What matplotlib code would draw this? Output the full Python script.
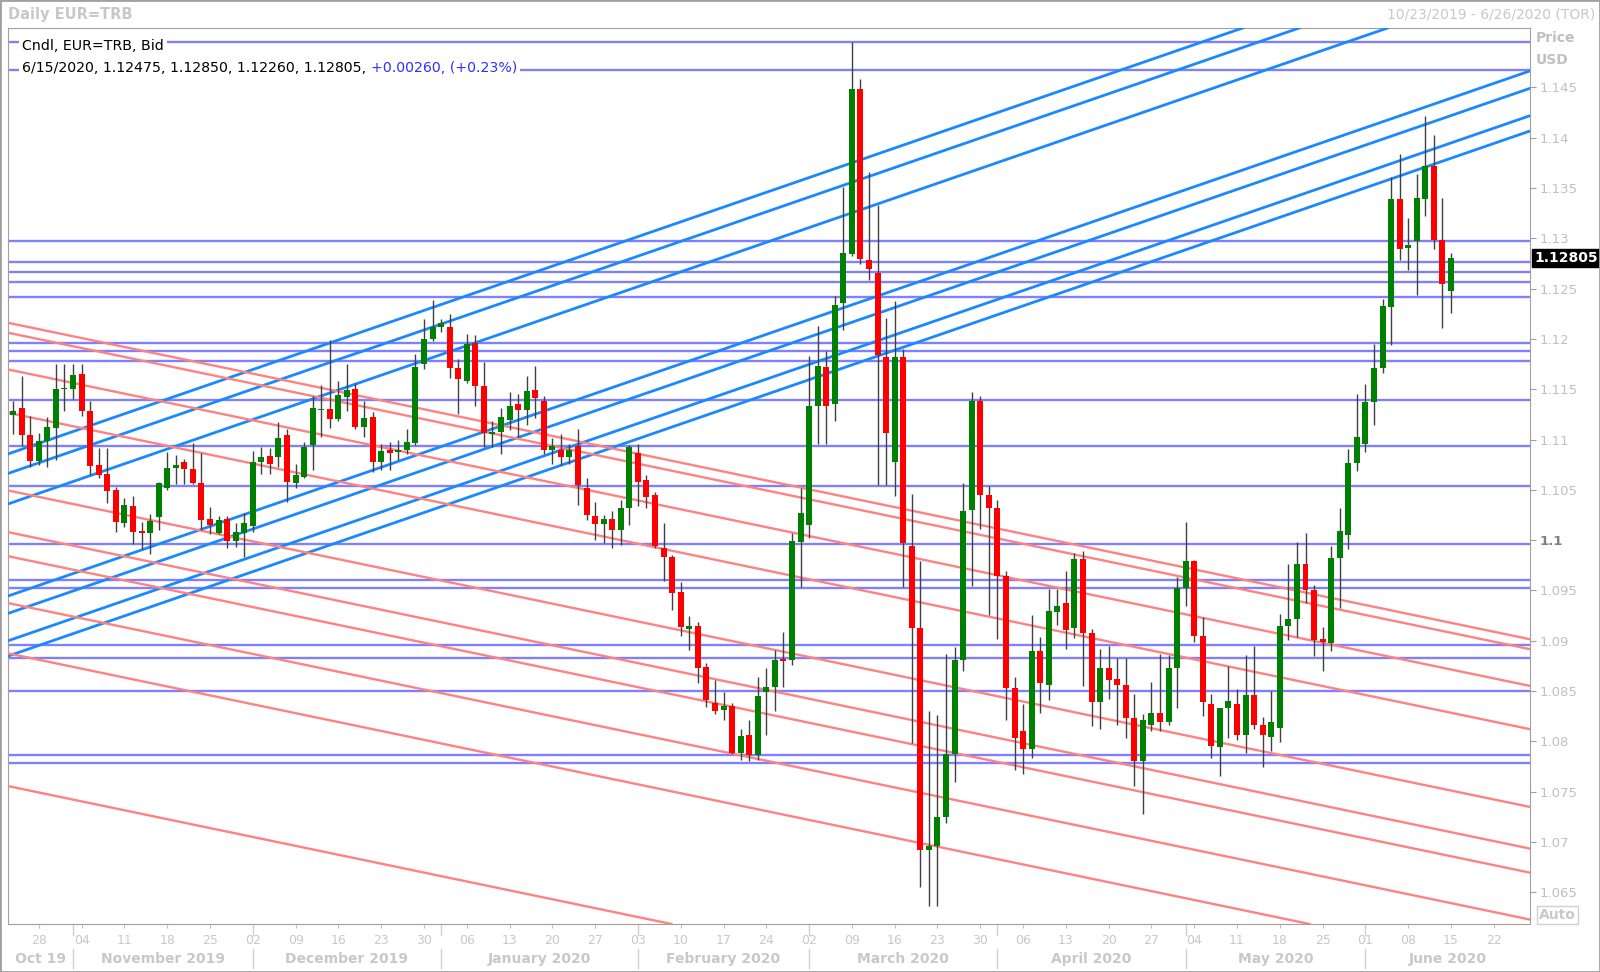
import numpy as np
import pandas as pd
import matplotlib
matplotlib.use("Agg")
import matplotlib.pyplot as plt
import matplotlib.transforms as mtransforms
from matplotlib.patches import Rectangle

# weekdays on the time axis (holidays included, as on the screen)
axis_days = pd.bdate_range("2019-10-23", "2020-06-26")

# daily candles 10/23/2019 .. 6/15/2020
opens = [
    1.1124, 1.1131, 1.1104, 1.1079, 1.1099, 1.1111, 1.1150, 1.1150, 1.1165, 1.1128,
    1.1075, 1.1066, 1.1050, 1.1017, 1.1034, 1.1009, 1.1007, 1.1023, 1.1052, 1.1072,
    1.1078, 1.1071, 1.1057, 1.1021, 1.1007, 1.1021, 1.0999, 1.1007, 1.1014, 1.1078,
    1.1084, 1.1083, 1.1104, 1.1057, 1.1063, 1.1095, 1.1129, 1.1130, 1.1120, 1.1142,
    1.1150, 1.1112, 1.1122, 1.1078, 1.1090, 1.1088, 1.1090, 1.1097, 1.1175, 1.1200,
    1.1212, 1.1212, 1.1171, 1.1158, 1.1196, 1.1153, 1.1105, 1.1107, 1.1119, 1.1135,
    1.1129, 1.1149, 1.1138, 1.1090, 1.1090, 1.1083, 1.1094, 1.1052, 1.1024, 1.1016,
    1.1021, 1.1010, 1.1032, 1.1087, 1.1060, 1.1045, 1.0992, 1.0983, 1.0948, 1.0912,
    1.0915, 1.0874, 1.0838, 1.0831, 1.0835, 1.0788, 1.0806, 1.0786, 1.0849, 1.0854,
    1.0882, 1.0881, 1.0998, 1.1015, 1.1133, 1.1172, 1.1135, 1.1236, 1.1284, 1.1448,
    1.1278, 1.1266, 1.1182, 1.1078, 1.1182, 1.0994, 1.0913, 1.0692, 1.0696, 1.0725,
    1.0787, 1.0881, 1.1030, 1.1138, 1.1045, 1.1032, 1.0964, 1.0853, 1.0810, 1.0792,
    1.0890, 1.0856, 1.0929, 1.0938, 1.0913, 1.0981, 1.0908, 1.0839, 1.0873, 1.0862,
    1.0856, 1.0823, 1.0780, 1.0816, 1.0828, 1.0819, 1.0873, 1.0952, 1.0979, 1.0905,
    1.0837, 1.0794, 1.0833, 1.0837, 1.0806, 1.0846, 1.0816, 1.0804, 1.0813, 1.0915,
    1.0922, 1.0976, 1.0950, 1.0902, 1.0898, 1.0982, 1.1005, 1.1077, 1.1096, 1.1137,
    1.1171, 1.1232, 1.1339, 1.1290, 1.1297, 1.1339, 1.1372, 1.1298, 1.12475,
]
highs = [
    1.1138, 1.1163, 1.1123, 1.1106, 1.1122, 1.1175, 1.1175, 1.1175, 1.1175, 1.1138,
    1.1092, 1.1092, 1.1053, 1.1042, 1.1044, 1.1018, 1.1026, 1.1058, 1.1088, 1.1085,
    1.1081, 1.1097, 1.1087, 1.1033, 1.1024, 1.1024, 1.1017, 1.1027, 1.1089, 1.1093,
    1.1092, 1.1117, 1.1110, 1.1076, 1.1098, 1.1143, 1.1154, 1.1199, 1.1158, 1.1175,
    1.1156, 1.1138, 1.1127, 1.1096, 1.1098, 1.1100, 1.1110, 1.1185, 1.1220, 1.1239,
    1.1220, 1.1225, 1.1180, 1.1205, 1.1204, 1.1177, 1.1118, 1.1131, 1.1147, 1.1145,
    1.1163, 1.1173, 1.1143, 1.1102, 1.1105, 1.1096, 1.1110, 1.1062, 1.1038, 1.1025,
    1.1029, 1.1040, 1.1095, 1.1096, 1.1065, 1.1048, 1.1017, 1.0985, 1.0958, 1.0925,
    1.0919, 1.0878, 1.0861, 1.0849, 1.0838, 1.0812, 1.0821, 1.0864, 1.0873, 1.0891,
    1.0909, 1.1007, 1.1052, 1.1183, 1.1213, 1.1188, 1.1243, 1.1351, 1.1495, 1.1458,
    1.1366, 1.1333, 1.1221, 1.1238, 1.1190, 1.1046, 1.0979, 1.0830, 1.0826, 1.0887,
    1.0894, 1.1057, 1.1147, 1.1143, 1.1054, 1.1040, 1.0969, 1.0864, 1.0837, 1.0926,
    1.0904, 1.0951, 1.0951, 1.0969, 1.0987, 1.0989, 1.0912, 1.0892, 1.0895, 1.0883,
    1.0883, 1.0847, 1.0827, 1.0859, 1.0887, 1.0886, 1.0963, 1.1018, 1.0980, 1.0924,
    1.0847, 1.0833, 1.0875, 1.0852, 1.0886, 1.0895, 1.0824, 1.0850, 1.0927, 1.0976,
    1.0998, 1.1007, 1.0955, 1.0914, 1.0994, 1.1032, 1.1091, 1.1145, 1.1155, 1.1195,
    1.1240, 1.1361, 1.1384, 1.1320, 1.1364, 1.1422, 1.1403, 1.1340, 1.12850,
]
lows = [
    1.1105, 1.1094, 1.1073, 1.1075, 1.1073, 1.1080, 1.1128, 1.1140, 1.1123, 1.1065,
    1.1062, 1.1037, 1.1008, 1.1013, 1.0996, 1.0991, 1.0986, 1.1010, 1.1050, 1.1056,
    1.1056, 1.1056, 1.1010, 1.1006, 1.1006, 1.0992, 1.0993, 1.0983, 1.1008, 1.1066,
    1.1066, 1.1073, 1.1038, 1.1052, 1.1062, 1.1070, 1.1103, 1.1111, 1.1118, 1.1128,
    1.1110, 1.1103, 1.1068, 1.1070, 1.1070, 1.1080, 1.1086, 1.1095, 1.1170, 1.1198,
    1.1207, 1.1161, 1.1125, 1.1156, 1.1133, 1.1093, 1.1093, 1.1086, 1.1109, 1.1103,
    1.1114, 1.1121, 1.1086, 1.1076, 1.1075, 1.1076, 1.1035, 1.1020, 1.1000, 1.0997,
    1.0992, 1.0995, 1.1015, 1.1034, 1.1032, 1.0992, 1.0959, 1.0931, 1.0905, 1.0891,
    1.0858, 1.0834, 1.0827, 1.0821, 1.0787, 1.0781, 1.0780, 1.0781, 1.0806, 1.0830,
    1.0854, 1.0876, 1.0953, 1.1002, 1.1096, 1.1096, 1.1118, 1.1209, 1.1282, 1.1274,
    1.1259, 1.1055, 1.1055, 1.1044, 1.0953, 1.0798, 1.0655, 1.0636, 1.0636, 1.0719,
    1.0760, 1.0870, 1.0954, 1.1011, 1.0926, 1.0902, 1.0821, 1.0772, 1.0768, 1.0783,
    1.0828, 1.0841, 1.0916, 1.0892, 1.0903, 1.0855, 1.0815, 1.0812, 1.0842, 1.0816,
    1.0803, 1.0756, 1.0728, 1.0810, 1.0810, 1.0816, 1.0833, 1.0935, 1.0899, 1.0825,
    1.0783, 1.0766, 1.0803, 1.0801, 1.0788, 1.0812, 1.0775, 1.0790, 1.0799, 1.0901,
    1.0904, 1.0938, 1.0885, 1.0870, 1.0890, 1.0933, 1.0991, 1.1069, 1.1088, 1.1114,
    1.1166, 1.1194, 1.1278, 1.1268, 1.1244, 1.1322, 1.1289, 1.1211, 1.12260,
]
closes = [
    1.1128, 1.1104, 1.1079, 1.1099, 1.1112, 1.1150, 1.1151, 1.1164, 1.1128, 1.1074,
    1.1065, 1.1049, 1.1018, 1.1035, 1.1008, 1.1007, 1.1019, 1.1057, 1.1072, 1.1075,
    1.1071, 1.1057, 1.1020, 1.1015, 1.1020, 1.0999, 1.1008, 1.1017, 1.1078, 1.1083,
    1.1076, 1.1102, 1.1058, 1.1065, 1.1093, 1.1131, 1.1130, 1.1120, 1.1144, 1.1149,
    1.1112, 1.1121, 1.1078, 1.1089, 1.1087, 1.1090, 1.1098, 1.1172, 1.1200, 1.1212,
    1.1216, 1.1171, 1.1160, 1.1195, 1.1153, 1.1106, 1.1107, 1.1122, 1.1133, 1.1129,
    1.1148, 1.1141, 1.1090, 1.1094, 1.1083, 1.1090, 1.1055, 1.1025, 1.1016, 1.1021,
    1.1010, 1.1032, 1.1093, 1.1058, 1.1043, 1.0994, 1.0983, 1.0947, 1.0914, 1.0915,
    1.0873, 1.0841, 1.0830, 1.0835, 1.0788, 1.0805, 1.0786, 1.0845, 1.0854, 1.0881,
    1.0880, 1.0999, 1.1027, 1.1133, 1.1173, 1.1133, 1.1234, 1.1285, 1.1448, 1.1279,
    1.1269, 1.1184, 1.1106, 1.1182, 1.0997, 1.0913, 1.0692, 1.0696, 1.0725, 1.0787,
    1.0881, 1.1029, 1.1138, 1.1045, 1.1032, 1.0964, 1.0853, 1.0803, 1.0792, 1.0890,
    1.0858, 1.0930, 1.0935, 1.0911, 1.0981, 1.0908, 1.0839, 1.0873, 1.0861, 1.0856,
    1.0823, 1.0780, 1.0821, 1.0828, 1.0819, 1.0873, 1.0952, 1.0979, 1.0905, 1.0839,
    1.0795, 1.0833, 1.0840, 1.0806, 1.0846, 1.0816, 1.0806, 1.0819, 1.0915, 1.0922,
    1.0976, 1.0950, 1.0901, 1.0899, 1.0982, 1.1009, 1.1077, 1.1103, 1.1137, 1.1171,
    1.1233, 1.1339, 1.1289, 1.1293, 1.1340, 1.1372, 1.1298, 1.12545, 1.12805,
]

# horizontal levels
levels = [1.1495, 1.1467, 1.1297, 1.1276, 1.1267, 1.1257, 1.1242, 1.1196, 1.1188,
          1.1178, 1.1139, 1.1094, 1.1054, 1.0996, 1.0960, 1.0952, 1.0896, 1.0883,
          1.0850, 1.0786, 1.0778]

# trendlines: price on 10/23/2019 and on 6/26/2020
up_start = [1.10874, 1.10680, 1.10377, 1.09462, 1.09289, 1.09017, 1.08865]
up_end = [1.16069, 1.15875, 1.15572, 1.14657, 1.14484, 1.14212, 1.14060]
down_start = [1.12150, 1.12051, 1.11686, 1.11256, 1.10483, 1.10069, 1.09830,
              1.09364, 1.08864, 1.07545]
down_end = [1.09019, 1.08920, 1.08555, 1.08125, 1.07352, 1.06938, 1.06699,
            1.06233, 1.05733, 1.04414]

price_ticks = [1.065, 1.07, 1.075, 1.08, 1.085, 1.09, 1.095, 1.1, 1.105, 1.11,
               1.115, 1.12, 1.125, 1.13, 1.135, 1.14, 1.145]
month_labels = ["Oct 19", "November 2019", "December 2019", "January 2020",
                "February 2020", "March 2020", "April 2020", "May 2020", "June 2020"]

last_close = 1.12805
legend_line = "6/15/2020, 1.12475, 1.12850, 1.12260, 1.12805,"
legend_change = "+0.00260, (+0.23%)"

grey = "#c8c8c8"

fig = plt.figure(figsize=(16, 9.72), dpi=100)
ax = fig.add_axes([8 / 1600, 1 - 924 / 972, 1522 / 1600, 896 / 972])

o = np.array(opens)
c = np.array(closes)
x = np.arange(len(o))
up = c >= o
lo = np.minimum(o, c)
hgt = np.maximum(np.abs(c - o), 0.00008)

for p in levels:
    ax.axhline(p, color="#8080ff", lw=1.7, zorder=2)
for p0, p1 in zip(up_start, up_end):
    ax.axline((0, p0), (177, p1), color="#1a88ff", lw=2.0, zorder=3)
for p0, p1 in zip(down_start, down_end):
    ax.axline((0, p0), (177, p1), color="#ff8282", lw=1.7, zorder=3)

ax.vlines(x, lows, highs, color="#404040", lw=1, zorder=4)
ax.bar(x[up], hgt[up], 0.7, lo[up], color="#008000", zorder=5)
ax.bar(x[~up], hgt[~up], 0.7, lo[~up], color="#ff0000", zorder=5)

ax.set_xlim(-0.6, 177.23)
ax.set_ylim(1.061846, 1.150903)

for s in ax.spines.values():
    s.set_color("#a0a0a0")

# price axis on the right
ax.yaxis.tick_right()
ax.set_yticks(price_ticks)
ax.set_yticklabels([f"{t:g}" for t in price_ticks])
ax.tick_params(axis="y", direction="out", length=4, color="#a0a0a0",
               labelcolor="#c0c0c0", labelsize=9.5, pad=3)
for lab, t in zip(ax.get_yticklabels(), price_ticks):
    if abs(t - 1.1) < 1e-9:
        lab.set_color("#808080")
        lab.set_fontweight("bold")

# day numbers on Mondays
mondays = [i for i, d in enumerate(axis_days) if d.weekday() == 0]
ax.set_xticks(mondays)
ax.set_xticklabels([axis_days[i].strftime("%d") for i in mondays])
ax.tick_params(axis="x", direction="out", length=3, color="#c0c0c0",
               labelcolor=grey, labelsize=9, pad=4)

# month row
trans = mtransforms.blended_transform_factory(ax.transData, ax.transAxes)
month_start = [i for i in range(1, len(axis_days))
               if axis_days[i].month != axis_days[i - 1].month]
edges = [ax.get_xlim()[0]] + month_start + [ax.get_xlim()[1]]
for k, lab in enumerate(month_labels):
    ax.text((edges[k] + edges[k + 1]) / 2, -0.039, lab, transform=trans,
            ha="center", va="center", fontsize=10, fontweight="bold", color=grey)
for m in month_start:
    ax.plot([m, m], [-0.028, -0.049], transform=trans, color="#d0d0d0",
            lw=1, clip_on=False)
    ax.plot([m, m], [0, -0.012], transform=trans, color="#d0d0d0",
            lw=1, clip_on=False)

# legend text in the plot
box = dict(boxstyle="square,pad=0.22", fc="white", ec="none")
ax.text(0.0092, 0.9799, "Cndl, EUR=TRB, Bid", transform=ax.transAxes,
        fontsize=10.2, va="center", ha="left", color="black", bbox=box, zorder=10)
t2 = ax.text(0.0092, 0.9554, legend_line, transform=ax.transAxes,
             fontsize=10.2, va="center", ha="left", color="black", bbox=box, zorder=10)
ax.annotate(legend_change, xy=(1, 0.5), xycoords=t2, xytext=(3.5, 0),
            textcoords="offset points", fontsize=10.2, va="center", ha="left",
            color="#3030ff", bbox=box, zorder=11)

# last price box
ax.annotate(f"{last_close:.5f}", xy=(1, last_close),
            xycoords=("axes fraction", "data"), xytext=(3, 0),
            textcoords="offset points", ha="left", va="center", color="white",
            fontsize=10, fontweight="bold", annotation_clip=False, zorder=10,
            bbox=dict(boxstyle="square,pad=0.15", fc="black", ec="black"))

# header and axis captions
fig.text(8 / 1600, 1 - 14 / 972, "Daily EUR=TRB", fontsize=10.5, fontweight="bold",
         color=grey, va="center", ha="left")
fig.text(1595 / 1600, 1 - 14 / 972, "10/23/2019 - 6/26/2020 (TOR)", fontsize=10,
         color=grey, va="center", ha="right")
fig.text(1536 / 1600, 1 - 38 / 972, "Price", fontsize=10, fontweight="bold",
         color="#c0c0c0", va="center", ha="left")
fig.text(1536 / 1600, 1 - 60 / 972, "USD", fontsize=10, fontweight="bold",
         color="#c0c0c0", va="center", ha="left")
fig.text(1539 / 1600, 1 - 915 / 972, "Auto", fontsize=10, fontweight="bold",
         color=grey, va="center", ha="left",
         bbox=dict(boxstyle="square,pad=0.15", fc="white", ec="#d0d0d0"))

fig.patches.append(Rectangle((0, 0), 1, 1, transform=fig.transFigure, fill=False,
                             ec="#a0a0a0", lw=2))

fig.savefig("out.png", dpi=100)
